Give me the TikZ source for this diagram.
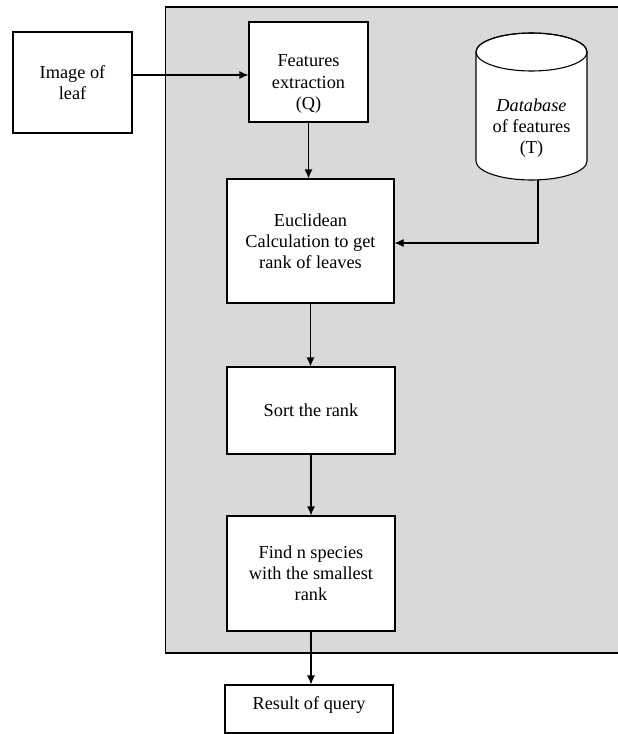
\documentclass[tikz,border=0pt]{standalone}
\usepackage{fontspec}
\setmainfont{Liberation Serif}
\usetikzlibrary{arrows.meta}
\begin{document}
\begin{tikzpicture}[x=1pt,y=-1pt,line width=1.1pt,
  every node/.style={font=\fontsize{18.3}{21.2}\selectfont},
  box/.style={draw,fill=white,align=center,inner sep=0pt},
  flow/.style={-{Latex[length=9pt,width=8pt]}}]
  \useasboundingbox (0,0) rectangle (618,734);

  % Background
  \draw[fill=black!15] (165.7,7) rectangle (630,653);

  % Boxes
  \node[box,minimum width=119pt,minimum height=101pt] (leaf) at (72.5,82.5) {Image of\\leaf};
  \node[box,minimum width=119pt,minimum height=100pt] (feat) at (308.5,72) {};
  \node[align=center] (featlabel) at (308.5,84) {Features\\extraction\\(Q)};
  \node[box,minimum width=167pt,minimum height=124pt] (eucl) at (310.5,241) {Euclidean\\Calculation to get\\rank of leaves};
  \node[box,minimum width=168pt,minimum height=87pt] (sort) at (311,410.5) {Sort the rank};
  \node[box,minimum width=168pt,minimum height=115pt] (find) at (311,573.5) {Find n species\\with the smallest\\rank};
  \node[box,minimum width=168pt,minimum height=48pt,text height=10pt,text depth=10pt] (result) at (309,709) {Result of query};

  % Database
  \draw[fill=white] (476,52) -- (476,161) arc[start angle=180,end angle=0,x radius=55.5,y radius=19]
    -- (587,52) arc[start angle=0,end angle=-180,x radius=55.5,y radius=19] -- cycle;
  \draw (531.5,52) ellipse [x radius=55.5,y radius=19];
  \node[align=center] (db) at (531.5,128) {\textit{Database}\\of features\\(T)};
  \coordinate (dbbot) at (538,180);

  % Arrows
  \draw[flow] (leaf.east |- 0,75) -- (feat.west |- 0,75);
  \draw[flow] (feat.south) -- (feat.south |- eucl.north);
  \draw[flow] (dbbot) |- (eucl.east |- 0,243);
  \draw[flow] (eucl.south) -- (eucl.south |- sort.north);
  \draw[flow] (sort.south) -- (find.north);
  \draw[flow] (find.south) -- (find.south |- result.north);

\end{tikzpicture}
\end{document}
